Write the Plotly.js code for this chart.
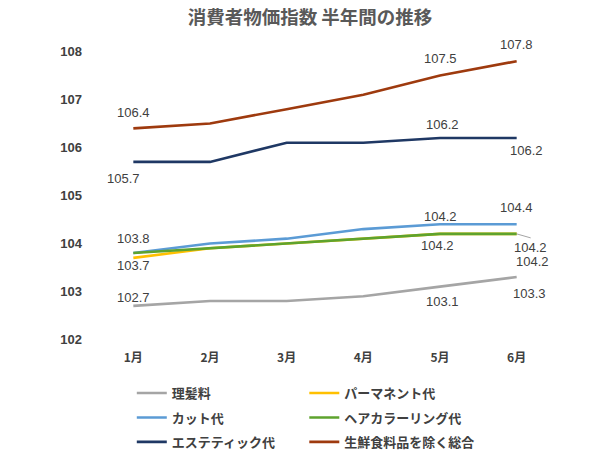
<!DOCTYPE html>
<html>
<head>
<meta charset="utf-8">
<script src="https://cdn.plot.ly/plotly-3.0.1.min.js"></script>
<style>html,body{margin:0;padding:0;background:#fff;}#chart{width:600px;height:455px;}</style>
</head>
<body>
<div id="chart"></div>
<script>
// ---- data ----
const months = ["1月", "2月", "3月", "4月", "5月", "6月"];
const seriesNames = ["理髪料", "パーマネント代", "カット代", "ヘアカラーリング代", "エステティック代", "生鮮食料品を除く総合"];
const barber     = [102.7, 102.8, 102.8, 102.9, 103.1, 103.3];
const perm       = [103.7, 103.9, 104.0, 104.1, 104.2, 104.2];
const cut        = [103.8, 104.0, 104.1, 104.3, 104.4, 104.4];
const coloring   = [103.8, 103.9, 104.0, 104.1, 104.2, 104.2];
const esthetic   = [105.7, 105.7, 106.1, 106.1, 106.2, 106.2];
const overall    = [106.4, 106.5, 106.8, 107.1, 107.5, 107.8];
const yTicks     = [102, 103, 104, 105, 106, 107, 108];

// ---- styles ----
const seriesValues = [barber, perm, cut, coloring, esthetic, overall];
const colors = ["#A5A5A5", "#FFC000", "#5B9BD5", "#5EA32E", "#1F3864", "#9E3A0E"];
const legendOf = ["legend", "legend2", "legend", "legend2", "legend", "legend2"];

// label placement: [seriesIndex, monthIndex, xshift, yshift, arrowDx, arrowDy]
const labelPlacement = [
  [0, 0, 0, 8], [0, 4, 2, -15], [0, 5, 13, -16],
  [1, 0, 0, -8], [1, 4, 0, 17], [1, 5, 16, -28],
  [2, 0, 0, 15], [2, 5, 0, 17],
  [3, 4, -3, -12], [3, 5, null, null, 14, 4],
  [4, 0, -10, -17], [4, 4, 2, 13], [4, 5, 10, -13],
  [5, 0, 0, 16], [5, 4, 0, 17], [5, 5, 0, 17]
];

const jp = '"Noto Sans CJK JP", "Noto Sans", sans-serif';
const num = '"Liberation Sans", Arial, sans-serif';

const traces = seriesNames.map((name, i) => ({
  type: "scatter",
  mode: "lines",
  name: name,
  x: months,
  y: seriesValues[i],
  line: {color: colors[i], width: 2.6},
  legend: legendOf[i],
  legendgroup: "g" + i,
  hoverinfo: "x+y+name"
}));

const annotations = labelPlacement.map(p => {
  const [s, m, xs, ys, adx, ady] = p;
  const a = {
    x: months[m], y: seriesValues[s][m], xref: "x", yref: "y",
    text: seriesValues[s][m].toFixed(1),
    font: {family: num, size: 13, color: "#404040"}
  };
  if (adx !== undefined) {
    a.showarrow = true; a.arrowhead = 0; a.arrowwidth = 1; a.arrowcolor = "#A5A5A5";
    a.ax = adx; a.ay = ady; a.xanchor = "center"; a.yanchor = "top";
  } else {
    a.showarrow = false; a.xshift = xs; a.yshift = ys;
  }
  return a;
});

const legendCommon = {
  orientation: "v", xanchor: "left", yanchor: "top", xref: "paper", yref: "container",
  font: {family: jp, size: 13, color: "#404040", weight: "bold"},
  bgcolor: "rgba(0,0,0,0)", tracegroupgap: 4.5, itemwidth: 30
};

const layout = {
  width: 600, height: 455,
  margin: {l: 95, r: 45, t: 42, b: 106},
  paper_bgcolor: "#fff", plot_bgcolor: "#fff",
  title: {text: "消費者物価指数 半年間の推移", x: 0.5167, xref: "container", xanchor: "center", y: 0.962, yanchor: "middle",
          font: {family: jp, size: 18.5, color: "#595959", weight: "bold"}},
  showlegend: true,
  legend: Object.assign({}, legendCommon, {x: 0.08, y: 0.169}),
  legend2: Object.assign({}, legendCommon, {x: 0.455, y: 0.169}),
  xaxis: {type: "category", range: [-0.5, 5.5], showgrid: false, zeroline: false, showline: false, ticks: "",
          tickfont: {family: jp, size: 12, color: "#404040", weight: "bold"}},
  yaxis: {range: [101.8, 108.2], tickvals: yTicks, ticktext: yTicks.map(String), showgrid: false, zeroline: false, showline: false, ticks: "",
          tickfont: {family: num, size: 13, color: "#404040", weight: "bold"}, ticklabelstandoff: 12},
  annotations: annotations
};

Plotly.newPlot("chart", traces, layout, {displayModeBar: false, staticPlot: true});
</script>
</body>
</html>
